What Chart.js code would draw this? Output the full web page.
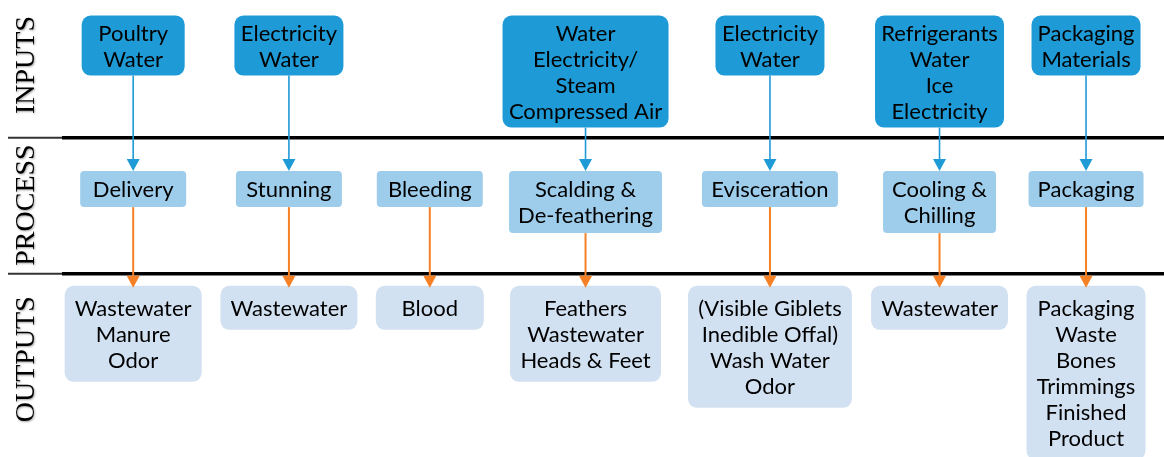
<!DOCTYPE html>
<html>
<head>
<meta charset="utf-8">
<script src="https://cdn.jsdelivr.net/npm/chart.js@4.4.0/dist/chart.umd.min.js"></script>
<style>
  html, body { margin: 0; padding: 0; background: #fff; }
  #wrap { width: 1164px; height: 457px; }
</style>
</head>
<body>
<div id="wrap"><canvas id="flow" width="1164" height="457"></canvas></div>
<script>
// ---- data ----
const rowLabels = ["INPUTS", "PROCESS", "OUTPUTS"];
const stages = ["Delivery", "Stunning", "Bleeding", "Scalding &\nDe-feathering", "Evisceration", "Cooling &\nChilling", "Packaging"];
const inputs = ["Poultry\nWater", "Electricity\nWater", null, "Water\nElectricity/\nSteam\nCompressed Air", "Electricity\nWater", "Refrigerants\nWater\nIce\nElectricity", "Packaging\nMaterials"];
const outputs = ["Wastewater\nManure\nOdor", "Wastewater", "Blood", "Feathers\nWastewater\nHeads & Feet", "(Visible Giblets\nInedible Offal)\nWash Water\nOdor", "Wastewater", "Packaging\nWaste\nBones\nTrimmings\nFinished\nProduct"];

// ---- layout / style ----
const FONT = "22px Lato";
const LINE_H = 26;
const GAP = 15;
const rowStyle = [
    { fill: "#1e9bd7", radius: 9, padX: 6, padY: 4, minW: 103, top: 0.10 },
    { fill: "#9dcdeb", radius: 4, padX: 9, padY: 5, minW: 106, top: 0.245 },
    { fill: "#d2e1f1", radius: 9, padX: 10, padY: 9, minW: 108, top: 0.09 },
];
const labelPos = [0.464, 1.495, 2.63];
const rows = [inputs, stages, outputs];

// box sizes come from the text itself
const measure = document.createElement("canvas").getContext("2d");
measure.font = FONT;
function boxSize(text, st) {
    const lines = text.split("\n");
    const w = Math.max(...lines.map((l) => measure.measureText(l).width));
    return { lines, w: Math.max(st.minW, Math.ceil(w + 2 * st.padX)), h: lines.length * LINE_H + 2 * st.padY };
}
const boxes = rows.map((list, r) => list.map((t) => (t ? boxSize(t, rowStyle[r]) : null)));
const colW = stages.map((_, i) => Math.max(...boxes.map((b) => (b[i] ? b[i].w : 0))));
const colX = [];
let acc = 0;
colW.forEach((w) => { colX.push(acc + w / 2); acc += w + GAP; });
const xMax = acc - GAP;

function arrow(ctx, x, y0, y1, color, width) {
    const head = 12;
    ctx.strokeStyle = color;
    ctx.lineWidth = width;
    ctx.beginPath();
    ctx.moveTo(x, y0);
    ctx.lineTo(x, y1 - head + 1);
    ctx.stroke();
    ctx.fillStyle = color;
    ctx.beginPath();
    ctx.moveTo(x - 6.5, y1 - head);
    ctx.lineTo(x + 6.5, y1 - head);
    ctx.lineTo(x, y1);
    ctx.closePath();
    ctx.fill();
}

const flowPlugin = {
    id: "flow",
    afterDatasetsDraw(chart) {
        const { ctx, chartArea, scales: { y } } = chart;
        ctx.save();

        // row dividers
        [1, 2].forEach((v) => {
            const py = y.getPixelForValue(v);
            ctx.strokeStyle = "#000";
            ctx.lineWidth = 3.5;
            ctx.beginPath();
            ctx.moveTo(chartArea.left - 1, py);
            ctx.lineTo(chart.width, py);
            ctx.stroke();
            ctx.strokeStyle = "#333";
            ctx.lineWidth = 2;
            ctx.beginPath();
            ctx.moveTo(8, py);
            ctx.lineTo(chartArea.left - 1, py);
            ctx.stroke();
        });

        // row labels, rotated
        ctx.font = '28px "Liberation Serif"';
        ctx.fillStyle = "#000";
        ctx.textAlign = "center";
        ctx.textBaseline = "middle";
        rowLabels.forEach((lab, r) => {
            ctx.save();
            ctx.translate(chartArea.left - 36, y.getPixelForValue(labelPos[r]));
            ctx.rotate(-Math.PI / 2);
            ctx.shadowColor = "rgba(0,0,0,0.35)";
            ctx.shadowBlur = 2;
            ctx.shadowOffsetX = 1;
            ctx.shadowOffsetY = 1;
            ctx.fillText(lab, 0, 0);
            ctx.restore();
        });

        // boxes
        const placed = rows.map((list, r) => {
            const meta = chart.getDatasetMeta(r);
            const st = rowStyle[r];
            return list.map((t, i) => {
                if (!t) return null;
                const el = meta.data[i];
                const b = boxes[r][i];
                const left = el.x - b.w / 2;
                const top = el.y;
                ctx.fillStyle = st.fill;
                ctx.beginPath();
                ctx.roundRect(left, top, b.w, b.h, st.radius);
                ctx.fill();
                ctx.fillStyle = "#000";
                ctx.font = FONT;
                ctx.textAlign = "center";
                ctx.textBaseline = "middle";
                b.lines.forEach((l, k) => ctx.fillText(l, el.x, top + st.padY + LINE_H * (k + 0.5) + 1));
                return { x: el.x, top, bottom: top + b.h };
            });
        });

        // arrows
        stages.forEach((_, i) => {
            const p = placed[1][i];
            if (placed[0][i]) arrow(ctx, p.x, placed[0][i].bottom, p.top, "#1e9bd7", 1.6);
            if (placed[2][i]) arrow(ctx, p.x, p.bottom, placed[2][i].top + 2, "#f58025", 2);
        });

        ctx.restore();
    },
};

new Chart(document.getElementById("flow"), {
    type: "scatter",
    data: {
        datasets: rows.map((list, r) => ({
            label: rowLabels[r],
            data: list.map((t, i) => ({ x: colX[i], y: t ? r + rowStyle[r].top : null })),
            pointRadius: 0,
            showLine: false,
        })),
    },
    options: {
        responsive: false,
        animation: false,
        events: [],
        layout: { padding: { left: 63, right: 17, top: 2, bottom: 0 } },
        plugins: { legend: { display: false }, tooltip: { enabled: false } },
        scales: {
            x: { type: "linear", display: false, min: 0, max: xMax },
            y: { type: "linear", display: false, reverse: true, min: 0, max: 3.35 },
        },
    },
    plugins: [flowPlugin],
});
</script>
</body>
</html>
